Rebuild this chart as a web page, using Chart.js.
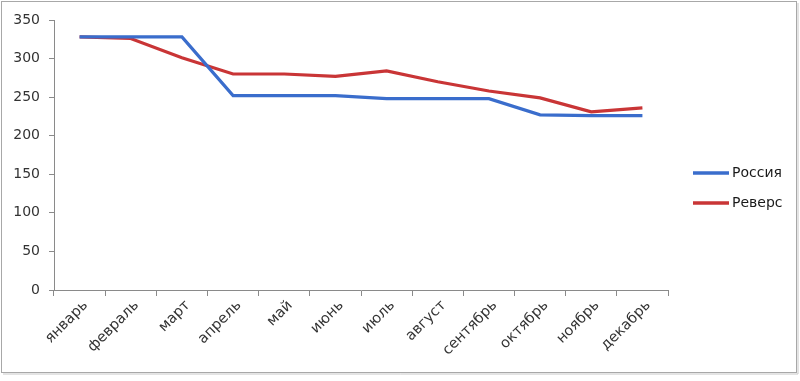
<!DOCTYPE html>
<html>
<head>
<meta charset="utf-8">
<script src="https://cdn.jsdelivr.net/npm/chart.js@4"></script>
<style>
html,body{margin:0;padding:0;background:#fff;}
#wrap{width:800px;height:381px;position:relative;}
</style>
</head>
<body>
<div id="wrap"><canvas id="c" width="800" height="381"></canvas></div>
<script>
const months = ['январь','февраль','март','апрель','май','июнь','июль','август','сентябрь','октябрь','ноябрь','декабрь'];
const russia = [328, 328, 328, 252, 252, 252, 248, 248, 248, 227, 226, 226];
const reverse = [328, 326, 301, 280, 280, 277, 284, 270, 258, 249, 231, 236];
const seriesNames = ['Россия', 'Реверс'];
const yTicks = [0, 50, 100, 150, 200, 250, 300, 350];

const FONT = '"DejaVu Sans", sans-serif';
const TEXT = '#333333';
const AXIS = '#8a8a8a';

const framePlugin = {
  id: 'frame',
  beforeDraw(chart) {
    const ctx = chart.ctx;
    ctx.save();
    ctx.fillStyle = '#fff';
    ctx.fillRect(0, 0, chart.width, chart.height);
    ctx.restore();
  },
  afterDraw(chart) {
    const ctx = chart.ctx;
    ctx.save();
    ctx.strokeStyle = '#a8a8a8';
    ctx.lineWidth = 1;
    ctx.strokeRect(1.5, 1.5, 795, 371);
    ctx.strokeStyle = '#c8c8c8';
    ctx.beginPath();
    ctx.moveTo(798, 3); ctx.lineTo(798, 374); ctx.lineTo(3, 374);
    ctx.stroke();
    const ca = chart.chartArea;
    const x0 = ca.right + 25;
    const midY = chart.height / 2 - 3;
    const gap = 30;
    chart.data.datasets.forEach((ds, i) => {
      const y = Math.round(midY - gap / 2 + i * gap);
      ctx.strokeStyle = ds.borderColor;
      ctx.lineWidth = 3.5;
      ctx.lineCap = 'butt';
      ctx.beginPath();
      ctx.moveTo(x0, y); ctx.lineTo(x0 + 36, y);
      ctx.stroke();
      ctx.fillStyle = '#1a1a1a';
      ctx.font = '14px ' + FONT;
      ctx.textAlign = 'left';
      ctx.textBaseline = 'middle';
      ctx.fillText(ds.label, x0 + 39, y);
    });
    ctx.restore();
  }
};

new Chart(document.getElementById('c'), {
  type: 'line',
  data: {
    labels: months,
    datasets: [
      { label: seriesNames[0], data: russia, borderColor: '#3a6dcc', backgroundColor: '#3a6dcc', borderWidth: 3.2, pointRadius: 0, tension: 0, fill: false },
      { label: seriesNames[1], data: reverse, borderColor: '#c93536', backgroundColor: '#c93536', borderWidth: 3.2, pointRadius: 0, tension: 0, fill: false }
    ]
  },
  options: {
    responsive: false,
    animation: false,
    devicePixelRatio: 1,
    layout: { padding: { left: 0, top: 20, right: 132, bottom: 0 } },
    plugins: { legend: { display: false }, tooltip: { enabled: false } },
    scales: {
      x: {
        type: 'category',
        offset: true,
        afterFit(s) { s.height = 91; },
        grid: { offset: true, drawOnChartArea: false, drawTicks: true, tickLength: 6, color: AXIS, lineWidth: 1 },
        border: { display: true, color: AXIS, width: 1 },
        ticks: { minRotation: 45, maxRotation: 45, autoSkip: false, color: TEXT, font: { family: FONT, size: 14.5 }, padding: 1, labelOffset: 6 }
      },
      y: {
        min: 0, max: 350,
        afterFit(s) { s.width = 54; },
        afterBuildTicks(s) { s.ticks = yTicks.map(v => ({ value: v })); },
        grid: { drawOnChartArea: false, drawTicks: true, tickLength: 5, color: AXIS, lineWidth: 1 },
        border: { display: true, color: AXIS, width: 1 },
        ticks: { color: TEXT, font: { family: FONT, size: 14 }, padding: 9 }
      }
    }
  },
  plugins: [framePlugin]
});
</script>
</body>
</html>
